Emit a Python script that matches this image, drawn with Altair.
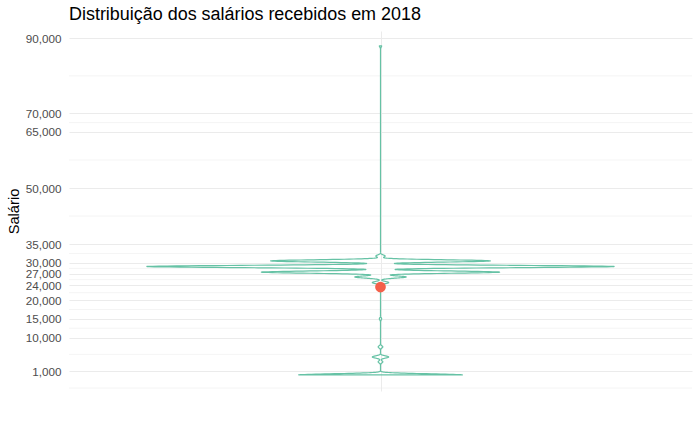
import altair as alt
import numpy as np
import pandas as pd

# ---- data ----
salario_valores = [0, 3500, 4800, 7500, 15000, 24700, 26200, 27500, 29000, 30500, 31800, 88000]
contagens       = [70, 2, 7, 2, 1, 7, 22, 102, 200, 94, 4, 1]
media_salario = [23500]

major_breaks = [1000, 10000, 15000, 20000, 24000, 27000, 30000, 35000, 50000, 65000, 70000, 90000]
minor_breaks = [-3500, 5500, 12500, 17500, 22000, 25500, 28500, 32500, 42500, 57500, 67500, 80000]

titulo = "Distribuição dos salários recebidos em 2018"

df = pd.DataFrame({"salario": np.repeat(salario_valores, contagens)})
df_media = pd.DataFrame({"salario": media_salario, "pos": [0.0]})
df_minor = pd.DataFrame({"v": minor_breaks})

FONT = "Liberation Sans"
VIOLIN = "#66C2A5"
GRID = "#EBEBEB"

yscale = alt.Scale(domain=[-4300, 92000], nice=False, zero=False)
xscale = alt.Scale(domain=[-1.3333, 1.3333], nice=False, zero=False)

yaxis = alt.Axis(
    values=major_breaks, format=",d", grid=True, gridColor=GRID, gridWidth=1.07,
    ticks=False, tickSize=0, domain=False, labelPadding=8,
    labelOverlap=False, labelFlush=False, labelBound=False,
    labelFont=FONT, labelFontSize=11.7, labelColor="#4D4D4D",
    title="Salário", titleFont=FONT, titleFontSize=14.67, titleFontWeight="normal",
    titleColor="black", titleAngle=270, titleX=-51, titleY=180,
    titleAlign="center", titleBaseline="alphabetic",
)
xaxis = alt.Axis(
    values=[0], grid=True, gridColor=GRID, gridWidth=1.07, labels=False,
    ticks=False, domain=False, title="",
)

minor = alt.Chart(df_minor).mark_rule(color=GRID, strokeWidth=0.55).encode(
    y=alt.Y("v:Q", scale=yscale, axis=yaxis)
)

violin = alt.Chart(df).transform_density(
    "salario", as_=["salario", "densidade"], bandwidth=300,
    extent=[0, 88000], steps=3000,
).transform_joinaggregate(
    maxd="max(densidade)"
).transform_calculate(
    w="datum.densidade / datum.maxd", neg="-datum.densidade / datum.maxd"
).mark_area(
    orient="horizontal", fillOpacity=0, stroke=VIOLIN, strokeWidth=1.2,
    color=VIOLIN, strokeJoin="round",
).encode(
    y=alt.Y("salario:Q", scale=yscale, axis=yaxis),
    x=alt.X("neg:Q", scale=xscale, axis=xaxis),
    x2="w:Q",
)

ponto = alt.Chart(df_media).mark_circle(size=115, color="#F4604A", opacity=1).encode(
    y=alt.Y("salario:Q", scale=yscale, axis=yaxis),
    x=alt.X("pos:Q", scale=xscale, axis=xaxis),
)

chart = alt.layer(minor, violin, ponto).properties(
    width=623, height=360,
    title=alt.TitleParams(
        text=titulo, anchor="start", frame="group", font=FONT, fontSize=17.95,
        fontWeight="normal", color="black", baseline="alphabetic", offset=-7,
    ),
    autosize=alt.AutoSizeParams(type="none"),
    padding={"left": 69, "top": 31, "right": 8, "bottom": 41},
    background="white",
).configure_view(stroke=None)

chart.save("out.html", embed_options={"renderer": "svg", "actions": False})
